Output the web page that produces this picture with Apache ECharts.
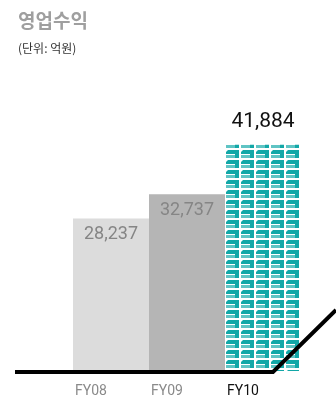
<!DOCTYPE html>
<html><head><meta charset="utf-8">
<script src="https://cdn.jsdelivr.net/npm/echarts@6/dist/echarts.min.js"></script>
<style>html,body{margin:0;padding:0;background:#fff}#c{width:336px;height:398px}</style>
</head><body><div id="c"></div>
<script>
const categories = ['FY08', 'FY09', 'FY10'];
const values = [28237, 32737, 41884];
const labelColors = ['#858585', '#858585', '#111111'];

// tile pattern for FY10
const tile = document.createElement('canvas');
tile.width = 15; tile.height = 10;
const t = tile.getContext('2d');
t.fillStyle = '#ffffff'; t.fillRect(0,0,15,10);
t.fillStyle = '#5fc4c4';
t.fillRect(1,5,9,3);
t.fillStyle = '#12a7a7';
t.beginPath();
t.moveTo(3,0); t.lineTo(14,0); t.lineTo(14,8); t.lineTo(10,8); t.lineTo(10,4); t.lineTo(1,4); t.lineTo(1,2); t.closePath();
t.fill();

const barColors = ['#dcdcdc', '#b5b5b5', {image: tile, repeat: 'repeat'}];

const chart = echarts.init(document.getElementById('c'), null, {renderer: 'canvas'});
chart.setOption({
  animation: false,
  backgroundColor: '#ffffff',
  title: [
    {text: '영업수익', left: 13, top: 6, textStyle: {fontFamily: 'Noto Sans CJK KR', fontSize: 19, fontWeight: 'bold', color: '#9f9f9f'}},
    {text: '(단위: 억원)', left: 13, top: 37, textStyle: {fontFamily: 'Noto Sans CJK KR', fontSize: 12, fontWeight: 'normal', color: '#333333'}}
  ],
  grid: {left: 73, right: 35, top: 47, bottom: 27},
  xAxis: {
    type: 'category', data: categories,
    axisLine: {show: false}, axisTick: {show: false},
    axisLabel: {
      margin: 13,
      formatter: (v, i) => '{' + (i === 2 ? 'b' : 'a') + '|' + v + '}',
      rich: {
        a: {width: 72, align: 'left', fontFamily: 'Roboto', fontSize: 14, color: '#8a8a8a'},
        b: {width: 72, align: 'left', fontFamily: 'Roboto', fontSize: 14, color: '#111111'}
      }
    }
  },
  yAxis: {type: 'value', min: 0, max: 60000, show: false, splitLine: {show: false}},
  series: [{
    type: 'bar',
    barCategoryGap: '0%',
    data: values.map((v, i) => ({
      value: v,
      itemStyle: {color: barColors[i]},
      label: i === 2
        ? {show: true, position: 'top', distance: 13, fontFamily: 'Roboto', fontSize: 21, color: labelColors[i]}
        : {show: true, position: 'insideTop', distance: 7, fontFamily: 'Roboto', fontSize: 18, color: labelColors[i]}
    })),
    label: {formatter: p => p.value.toLocaleString('en-US')}
  }],
  graphic: [{
    type: 'polyline', z: 100,
    shape: {points: [[15, 372], [273, 372], [336, 310]]},
    style: {stroke: '#000000', lineWidth: 4, fill: null}
  }]
});
</script></body></html>
